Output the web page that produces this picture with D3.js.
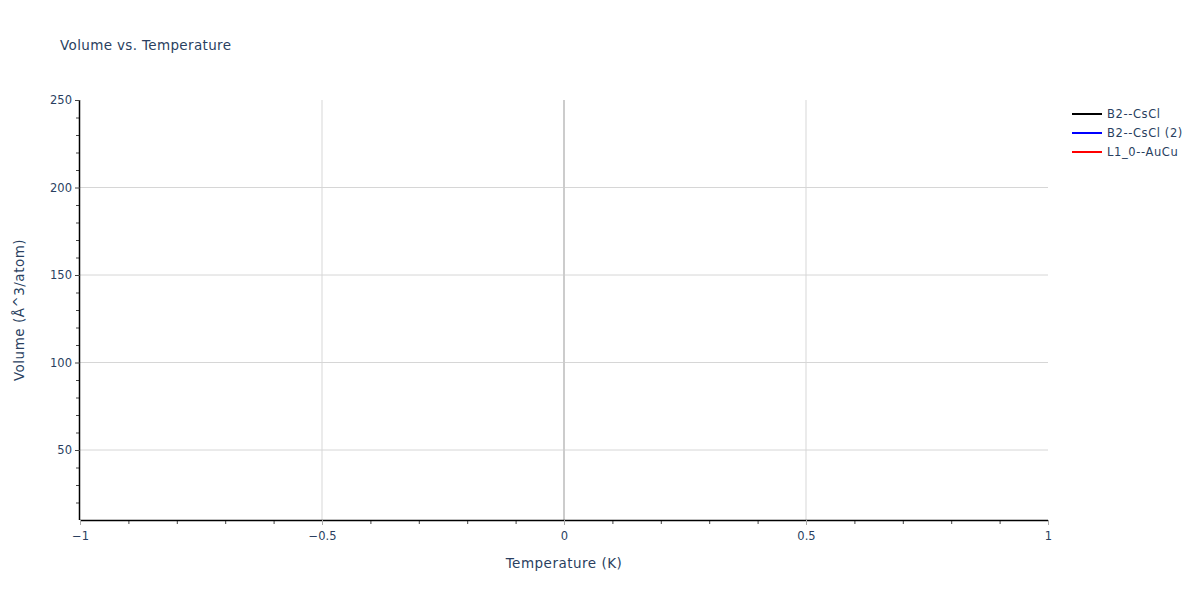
<!DOCTYPE html>
<html>
<head>
<meta charset="utf-8">
<script src="https://cdn.jsdelivr.net/npm/d3@7"></script>
<style>
  body { margin: 0; background: #fff; }
  text { font-family: "DejaVu Sans", Verdana, sans-serif; fill: #2a3f5f; }
</style>
</head>
<body>
<div id="chart"></div>
<script>
// chart data (the series have no points inside the shown range)
const seriesNames = ["B2--CsCl", "B2--CsCl (2)", "L1_0--AuCu"];
const seriesColors = ["#000000", "#0000ff", "#ff0000"];
const seriesTemps = [[], [], []];
const seriesVolumes = [[], [], []];

const xDomain = [-1, 1];
const yDomain = [10, 250];
const xTickValues = [-1, -0.5, 0, 0.5, 1];
const yTickValues = [50, 100, 150, 200, 250];

// dimensions and margins
const margin = {top: 100, right: 152, bottom: 80, left: 80},
    width = 1200 - margin.left - margin.right,
    height = 600 - margin.top - margin.bottom;

const svg = d3.select("#chart")
    .append("svg")
    .attr("width", 1200)
    .attr("height", 600);

const g = svg.append("g")
    .attr("transform", "translate(" + margin.left + "," + margin.top + ")");

const x = d3.scaleLinear().domain(xDomain).range([0, width]);
const y = d3.scaleLinear().domain(yDomain).range([height, 0]);

// gridlines
g.append("g").selectAll("line")
    .data(xTickValues.filter(d => d !== 0 && d !== xDomain[0] && d !== xDomain[1]))
    .enter().append("line")
    .attr("x1", d => x(d)).attr("x2", d => x(d))
    .attr("y1", 0).attr("y2", height)
    .attr("stroke", "#ebebeb").attr("stroke-width", 2);

g.append("g").selectAll("line")
    .data(yTickValues.filter(d => d !== yDomain[1]))
    .enter().append("line")
    .attr("x1", 0).attr("x2", width)
    .attr("y1", d => y(d)).attr("y2", d => y(d))
    .attr("stroke", "#d6d6d6").attr("stroke-width", 1);

// zero line
g.append("line")
    .attr("x1", x(0)).attr("x2", x(0))
    .attr("y1", 0).attr("y2", height)
    .attr("stroke", "#cccccc").attr("stroke-width", 2);

// series lines
const line = d3.line().x(d => x(d[0])).y(d => y(d[1]));
seriesNames.forEach((name, i) => {
    const pts = seriesTemps[i].map((t, j) => [t, seriesVolumes[i][j]]);
    g.append("path")
        .datum(pts)
        .attr("fill", "none")
        .attr("stroke", seriesColors[i])
        .attr("stroke-width", 2)
        .attr("d", line);
});

// x axis: minor ticks
const xMinor = d3.range(-10, 11).map(d => d / 10).filter(d => !xTickValues.includes(d));
const xAxisMinor = g.append("g")
    .attr("transform", "translate(0," + height + ")")
    .call(d3.axisBottom(x).tickValues(xMinor).tickSize(4).tickFormat(""));
xAxisMinor.select(".domain").remove();
xAxisMinor.selectAll("line").attr("stroke", "#444");

const xAxis = g.append("g")
    .attr("transform", "translate(0," + height + ")")
    .call(d3.axisBottom(x).tickValues(xTickValues).tickSize(5).tickPadding(7)
        .tickFormat(d => d3.format("")(d).replace("-", "\u2212")));
xAxis.select(".domain").attr("stroke", "#000").attr("stroke-width", 1.5)
    .attr("d", "M0,0.5H" + width);
xAxis.selectAll(".tick line").attr("stroke", "#aaa");
xAxis.selectAll("text").style("font-size", "11.5px").attr("fill", "#2a3f5f");

// y axis: minor ticks
const yMinor = d3.range(20, 250, 10).filter(d => !yTickValues.includes(d));
const yAxisMinor = g.append("g")
    .call(d3.axisLeft(y).tickValues(yMinor).tickSize(4).tickFormat(""));
yAxisMinor.select(".domain").remove();
yAxisMinor.selectAll("line").attr("stroke", "#444");

const yAxis = g.append("g")
    .call(d3.axisLeft(y).tickValues(yTickValues).tickSize(5).tickPadding(3));
yAxis.select(".domain").attr("stroke", "#000").attr("stroke-width", 1.5)
    .attr("d", "M-0.5,0V" + height);
yAxis.selectAll(".tick line").attr("stroke", "#444");
yAxis.selectAll("text").style("font-size", "11.5px").attr("fill", "#2a3f5f");

// axis titles
svg.append("text")
    .attr("x", margin.left + width / 2)
    .attr("y", 568)
    .attr("text-anchor", "middle")
    .style("font-size", "13.5px")
    .style("letter-spacing", "0.5px")
    .text("Temperature (K)");

svg.append("text")
    .attr("transform", "translate(24," + (margin.top + height / 2) + ") rotate(-90)")
    .attr("text-anchor", "middle")
    .style("font-size", "13.5px")
    .style("letter-spacing", "0.5px")
    .text("Volume (Å^3/atom)");

// title
svg.append("text")
    .attr("x", 60)
    .attr("y", 50)
    .style("font-size", "13.5px")
    .style("letter-spacing", "0.35px")
    .text("Volume vs. Temperature");

// legend
const legend = svg.append("g").attr("transform", "translate(1072,114)");
seriesNames.forEach((name, i) => {
    const row = legend.append("g").attr("transform", "translate(0," + (i * 19) + ")");
    row.append("line")
        .attr("x1", 0).attr("x2", 30)
        .attr("stroke", seriesColors[i]).attr("stroke-width", 2);
    row.append("text")
        .attr("x", 35).attr("y", 4)
        .style("font-size", "11.5px")
        .style("letter-spacing", "0.6px")
        .text(name);
});
</script>
</body>
</html>
